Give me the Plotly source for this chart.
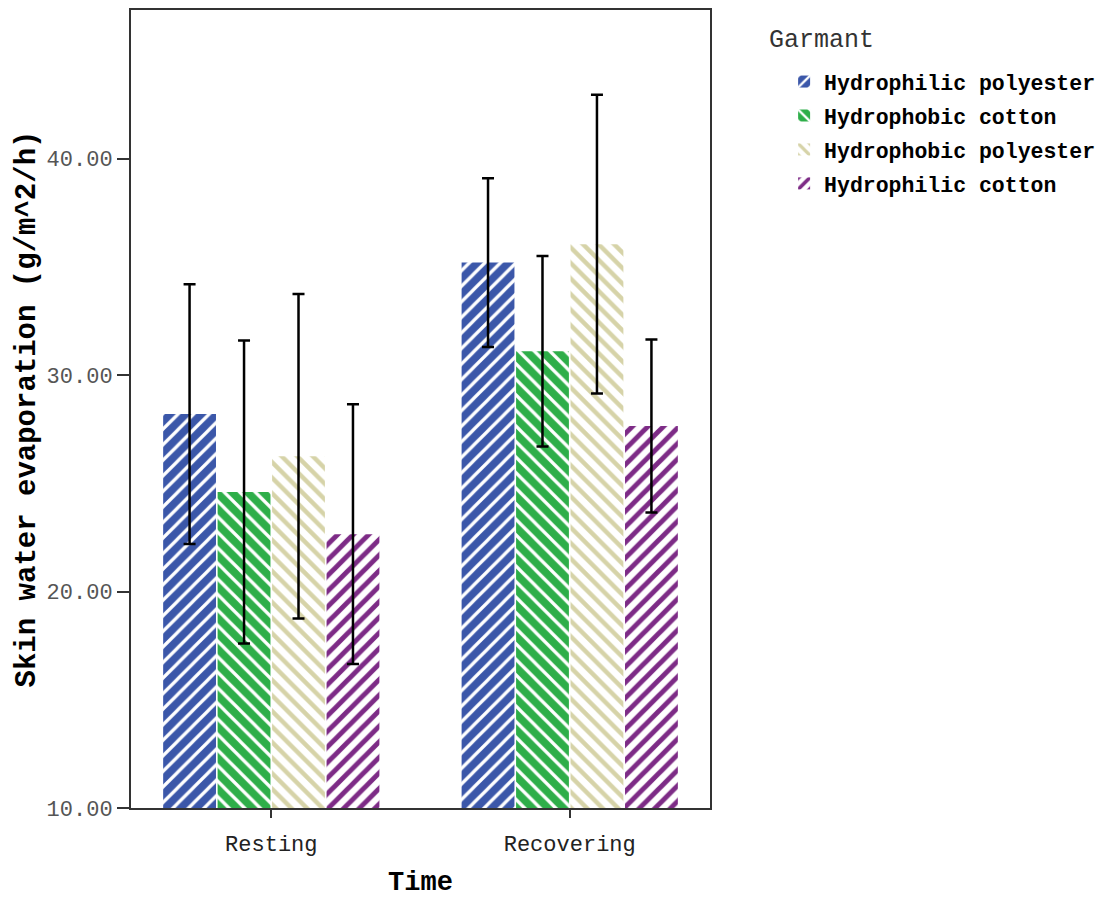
import plotly.graph_objects as go

# Measurement periods and garment groups
times = ["Resting", "Recovering"]
garments = ["Hydrophilic polyester", "Hydrophobic cotton",
            "Hydrophobic polyester", "Hydrophilic cotton"]

# Mean skin water evaporation (g/m^2/h) per garment, per period
hydrophilic_polyester = [28.2, 35.2]
hydrophobic_cotton = [24.6, 31.1]
hydrophobic_polyester = [26.25, 36.05]
hydrophilic_cotton = [22.65, 27.65]

# Error bar half-lengths
hydrophilic_polyester_err = [6.0, 3.9]
hydrophobic_cotton_err = [7.0, 4.4]
hydrophobic_polyester_err = [7.5, 6.9]
hydrophilic_cotton_err = [6.0, 4.0]

means = [hydrophilic_polyester, hydrophobic_cotton,
         hydrophobic_polyester, hydrophilic_cotton]
errors = [hydrophilic_polyester_err, hydrophobic_cotton_err,
          hydrophobic_polyester_err, hydrophilic_cotton_err]

# Hatch styles: (stripe colour, background colour, direction, stripe fraction)
styles = [
    ("#ffffff", "#3b57a9", "/", 0.30),
    ("#ffffff", "#2eae49", "\\", 0.30),
    ("#d6d3a8", "#ffffff", "\\", 0.40),
    ("#7d2b86", "#ffffff", "/", 0.45),
]

MONO = "Liberation Mono, Courier New, monospace"

fig = go.Figure()
for name, y, err, (fg, bg, shape, sol) in zip(garments, means, errors, styles):
    fig.add_trace(go.Bar(
        x=times, y=y, name=name, legendgroup=name,
        marker=dict(
            color=bg if bg != "#ffffff" else fg,
            line=dict(width=0),
            pattern=dict(shape=shape, fgcolor=fg, bgcolor=bg,
                         size=11, solidity=sol, fillmode="replace"),
        ),
        error_y=dict(type="data", array=err, visible=True,
                     color="#000000", thickness=2.5, width=6),
    ))

fig.update_layout(
    width=1114, height=898,
    margin=dict(l=131, r=404, t=10, b=90),
    paper_bgcolor="#ffffff", plot_bgcolor="#ffffff",
    barmode="group", bargap=0.27, bargroupgap=0.03,
    showlegend=True,
    legend=dict(
        x=1.128, xanchor="left", y=0.936, yanchor="top",
        font=dict(family=MONO, size=21.5, color="#000000", weight="bold"),
        tracegroupgap=3, bgcolor="rgba(0,0,0,0)",
    ),
    annotations=[dict(
        text="Garmant", xref="paper", yref="paper",
        x=1.098, y=0.962, xanchor="left", yanchor="middle",
        showarrow=False, font=dict(family=MONO, size=25, color="#333333"),
    )],
)

fig.update_xaxes(
    range=[-0.47, 1.47], automargin=False,
    showline=True, linecolor="#333333", linewidth=2, mirror=True,
    ticks="outside", ticklen=8, tickwidth=2, tickcolor="#333333",
    ticklabelstandoff=7,
    tickfont=dict(family=MONO, size=22, color="#222222"),
    title=dict(text="Time", standoff=14,
               font=dict(family=MONO, size=27, color="#000000", weight="bold")),
    showgrid=False,
)
fig.update_yaxes(
    range=[10, 46.87], automargin=False,
    tickvals=[10, 20, 30, 40], tickformat=".2f",
    showline=True, linecolor="#333333", linewidth=2, mirror=True,
    ticks="outside", ticklen=12, tickwidth=2, tickcolor="#333333",
    tickfont=dict(family=MONO, size=22, color="#555555"),
    title=dict(text="Skin water evaporation (g/m^2/h)", standoff=2,
               font=dict(family=MONO, size=29, color="#000000", weight="bold")),
    showgrid=False, zeroline=False,
)

fig.write_html("out.html")
